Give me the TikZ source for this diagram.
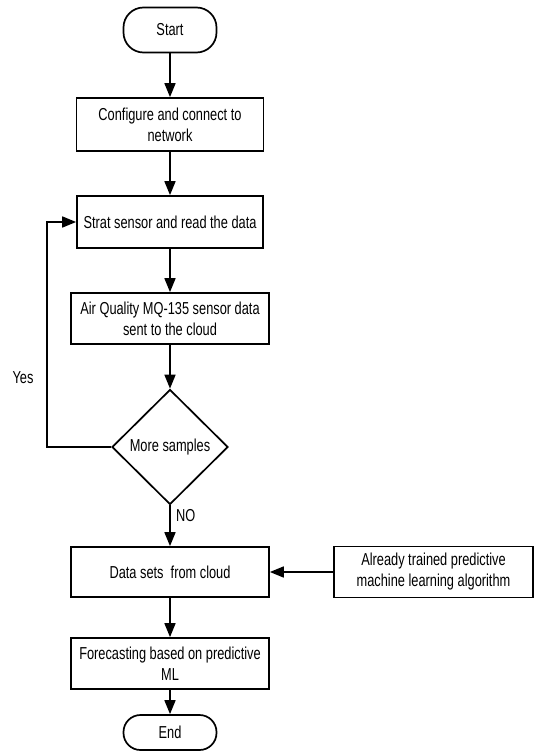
\documentclass[tikz,border=0pt]{standalone}
\usepackage{fontspec}
\setmainfont[FakeStretch=0.74]{Liberation Sans}
\usetikzlibrary{shapes.geometric,arrows.meta}
\begin{document}
\begin{tikzpicture}[x=1pt,y=-1pt]
	\tikzstyle{every node}+=[font=\fontsize{17.3}{21}\selectfont]
	\tikzstyle{box}=[draw, line width=1.7pt, inner sep=0pt, minimum width=198pt, minimum height=51pt, align=center]
	\tikzstyle{term}=[draw, line width=1.7pt, rounded corners=20pt, minimum width=93pt, minimum height=45pt]
	\tikzstyle{flow}=[line width=1.7pt, -{Triangle[length=14pt,width=11pt]}]
	\useasboundingbox (0,0) rectangle (536,751);
	\node [term] (start) at (170,30) {Start};
	\node [box, minimum width=187pt, minimum height=53pt] (config) at (170,124.5) {Configure and connect to\\network};
	\node [box, minimum width=186pt, minimum height=52pt] (sensor) at (170,222) {Strat sensor and read the data};
	\node [box] (cloud) at (170,318.5) {Air Quality MQ-135 sensor data\\sent to the cloud};
	\node [draw, diamond, line width=1.7pt, inner sep=0pt, minimum width=116pt, minimum height=115pt] (more) at (170,447) {More samples};
	\node [box, minimum height=50pt] (datasets) at (170,572) {Data sets\ \ from cloud};
	\node [box, minimum width=199pt] (trained) at (433.5,572) {Already trained predictive\\machine learning algorithm};
	\node [box] (forecast) at (170,663.5) {Forecasting based on predictive\\ML};
	\node [term, minimum height=35pt, rounded corners=17pt] (stop) at (170,732.5) {End};
	\coordinate (loopb) at (47,447);
	\coordinate (loopt) at (47,222);
	\draw [flow] (start) -- (config);
	\draw [flow] (config) -- (sensor);
	\draw [flow] (sensor) -- (cloud);
	\draw [flow] (cloud) -- (more);
	\draw [flow] (more.south) -- node [pos=0.26, right=2pt] (no) {NO} (datasets);
	\draw [flow] (trained) -- (datasets);
	\draw [flow] (datasets) -- (forecast);
	\draw [flow] (forecast) -- (stop);
	\draw [flow] (more.west) -- (loopb) -- (loopt) -- (sensor.west);
	\node (yes) at (23,378) {Yes};
\end{tikzpicture}
\end{document}
